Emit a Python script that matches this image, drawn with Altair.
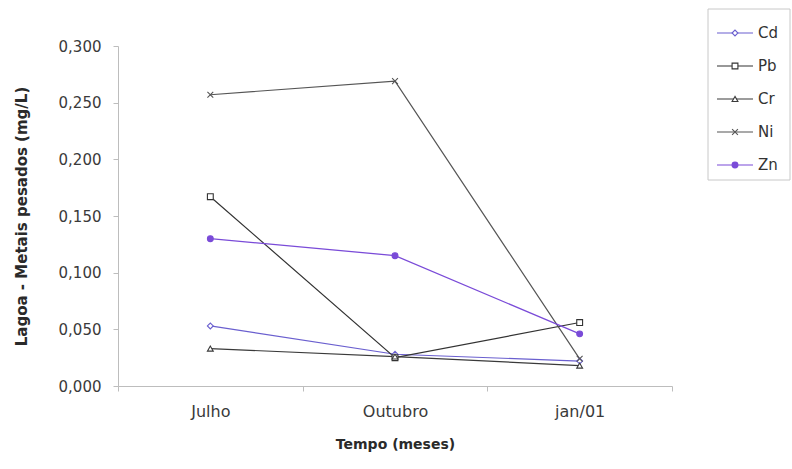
import altair as alt
import pandas as pd

months = ["Julho", "Outubro", "jan/01"]
series = ["Cd", "Pb", "Cr", "Ni", "Zn"]
cd = [0.053, 0.028, 0.022]
pb = [0.167, 0.025, 0.056]
cr = [0.033, 0.026, 0.018]
ni = [0.257, 0.269, 0.024]
zn = [0.130, 0.115, 0.046]

colors = ["#6a5fcf", "#333333", "#3a3a3a", "#555555", "#7a4bd8"]
fills = ["white", "white", "white", "transparent", "#7a4bd8"]
shapes = ["diamond", "square", "triangle-up", "M-1,-1L1,1M-1,1L1,-1", "circle"]
sizes = [34, 34, 34, 34, 22]

rows = []
for name, vals in zip(series, [cd, pb, cr, ni, zn]):
    for m, v in zip(months, vals):
        rows.append({"series": name, "month": m, "value": v})
df = pd.DataFrame(rows)
leg = pd.DataFrame({"series": series, "idx": list(range(len(series)))})
box = pd.DataFrame({"a": [0]})

FONT = "DejaVu Sans"
color_sc = alt.Scale(domain=series, range=colors)
fill_sc = alt.Scale(domain=series, range=fills)
shape_sc = alt.Scale(domain=series, range=shapes)
size_sc = alt.Scale(domain=series, range=sizes)

x_enc = alt.X("month:N", sort=months, bandPosition=0.5,
              scale=alt.Scale(type="band", domain=months, paddingInner=0, paddingOuter=0),
              axis=alt.Axis(title="Tempo (meses)", labelAngle=0, tickBand="extent",
                            domainColor="#bdbdbd", tickColor="#bdbdbd", tickSize=5,
                            labelPadding=12, labelFontSize=16, labelColor="#3a3a3a",
                            titleFontSize=14, titleFontWeight="bold", titleColor="#2a2a2a",
                            titleY=58, titleBaseline="middle"))
y_enc = alt.Y("value:Q", scale=alt.Scale(domain=[0, 0.3], nice=False, zero=True),
              axis=alt.Axis(title="Lagoa - Metais pesados (mg/L)",
                            values=[0, 0.05, 0.1, 0.15, 0.2, 0.25, 0.3],
                            labelExpr="replace(format(datum.value, '.3f'), '.', ',')",
                            grid=False, domainColor="#bdbdbd", tickColor="#bdbdbd",
                            tickSize=5, labelPadding=12, labelFontSize=15,
                            labelColor="#3a3a3a", titleFontSize=15,
                            titleFontWeight="bold", titleColor="#2a2a2a",
                            titleX=-97, titleY=170, titleBaseline="middle",
                            titleAngle=270))

lines = alt.Chart(df).mark_line(strokeWidth=1.2).encode(
    x=x_enc, y=y_enc,
    color=alt.Color("series:N", scale=color_sc, legend=None),
    detail="series:N",
)
points = alt.Chart(df).mark_point(strokeWidth=1.1, opacity=1).encode(
    x=x_enc, y=y_enc,
    color=alt.Color("series:N", scale=color_sc, legend=None),
    fill=alt.Fill("series:N", scale=fill_sc, legend=None),
    shape=alt.Shape("series:N", scale=shape_sc, legend=None),
    size=alt.Size("series:N", scale=size_sc, legend=None),
)
main = alt.layer(lines, points)

ly = alt.Y("idx:Q", scale=alt.Scale(domain=[0, 4], range=[-13, 119], zero=False, nice=False), axis=None)
leg_box = alt.Chart(box).mark_rect(fill="white", stroke="#c8c8c8", strokeWidth=1).encode(
    x=alt.value(590), x2=alt.value(672), y=alt.value(-37), y2=alt.value(134))
leg_rule = alt.Chart(leg).mark_rule(strokeWidth=1.2).encode(
    x=alt.value(599), x2=alt.value(635), y=ly,
    color=alt.Color("series:N", scale=color_sc, legend=None))
leg_pt = alt.Chart(leg).mark_point(strokeWidth=1.1, opacity=1).encode(
    x=alt.value(617), y=ly,
    color=alt.Color("series:N", scale=color_sc, legend=None),
    fill=alt.Fill("series:N", scale=fill_sc, legend=None),
    shape=alt.Shape("series:N", scale=shape_sc, legend=None),
    size=alt.Size("series:N", scale=size_sc, legend=None))
leg_txt = alt.Chart(leg).mark_text(align="left", baseline="middle", fontSize=15,
                                   color="#333333", font=FONT).encode(
    x=alt.value(640), y=ly, text="series:N")
legend = alt.layer(leg_box, leg_rule, leg_pt, leg_txt)

chart = alt.layer(main, legend).resolve_scale(y="independent").properties(
    width=554, height=340,
    autosize=alt.AutoSizeParams(type="none"),
    padding={"left": 118, "top": 46, "right": 120, "bottom": 83},
    background="white",
).configure(font=FONT, view=alt.ViewConfig(stroke=None))

chart.save("out.html", embed_options={"renderer": "svg", "actions": False})
